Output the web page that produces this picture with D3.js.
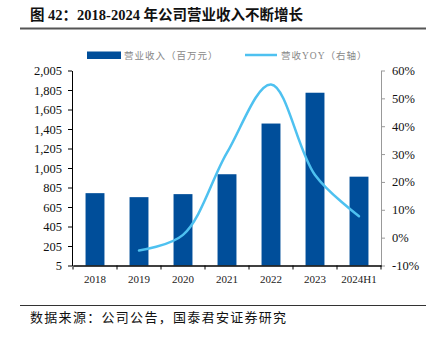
<!DOCTYPE html>
<html><head><meta charset="utf-8">
<script src="https://cdn.jsdelivr.net/npm/d3@7"></script>
<style>
html,body{margin:0;padding:0;background:#fff;}
svg{display:block;}
</style></head>
<body>
<script>
const categories = ["2018","2019","2020","2021","2022","2023","2024H1"];
const revenue = [747, 706, 737, 941, 1461, 1777, 916];
const yoyCats = ["2019","2020","2021","2022","2023","2024H1"];
const yoy = [-4.6, 1.0, 30.5, 55.0, 22.5, 7.7];
const leftTicks = [5,205,405,605,805,1005,1205,1405,1605,1805,2005];
const rightTicks = [-10,0,10,20,30,40,50,60];

const W = 426, H = 338;
const svg = d3.select("body").append("svg").attr("width", W).attr("height", H);
const serif = "'Liberation Serif','Times New Roman',serif";
const cjk = "'Noto Sans CJK SC','Liberation Serif',serif";

const L = 73, R = 381, T = 70.5, B = 265.5;
const x = d3.scaleBand().domain(categories).range([L, R]).paddingInner(0.57).paddingOuter(0.285);
const xb = d3.scaleBand().domain(categories).range([L, R]);
const yL = d3.scaleLinear().domain([5, 2005]).range([B, T]);
const yR = d3.scaleLinear().domain([-10, 60]).range([B, T]);

// title
svg.append("text").attr("x", 30).attr("y", 20)
  .attr("font-family", "'Liberation Serif'," + cjk).attr("font-weight", "bold").attr("font-size", 14.5)
  .attr("fill", "#111").text("图 42：2018-2024 年公司营业收入不断增长");
svg.append("line").attr("x1", 20).attr("x2", W).attr("y1", 28.5).attr("y2", 28.5)
  .attr("stroke", "#555").attr("stroke-width", 2);

// bars
svg.append("g").selectAll("rect").data(categories).join("rect")
  .attr("x", d => x(d)).attr("width", x.bandwidth())
  .attr("y", (d,i) => yL(revenue[i])).attr("height", (d,i) => B - yL(revenue[i]))
  .attr("fill", "#004E9A");

// line
const line = d3.line().x((d,i) => xb(yoyCats[i]) + xb.bandwidth()/2).y(d => yR(d)).curve(d3.curveCatmullRom.alpha(0.5));
svg.append("path").datum(yoy).attr("d", line).attr("fill", "none")
  .attr("stroke", "#4EC1F0").attr("stroke-width", 2.5).attr("stroke-linecap", "round");

// left axis
const gL = svg.append("g").attr("transform", `translate(${L - 1},0)`)
  .call(d3.axisLeft(yL).tickValues(leftTicks).tickFormat(d3.format(",")).tickSize(4).tickSizeOuter(0));
gL.select(".domain").attr("stroke", "#000");
gL.selectAll(".tick line").attr("stroke", "#000");
gL.selectAll("text").attr("font-family", serif).attr("font-size", 12.5).attr("fill", "#111").attr("x", -10);

// right axis
const gR = svg.append("g").attr("transform", `translate(${R},0)`)
  .call(d3.axisRight(yR).tickValues(rightTicks).tickFormat(d => d + "%").tickSize(4).tickSizeOuter(0));
gR.select(".domain").attr("stroke", "#999");
gR.selectAll(".tick line").attr("stroke", "#999");
gR.selectAll("text").attr("font-family", serif).attr("font-size", 12.5).attr("fill", "#111").attr("x", 11);

// bottom axis
const gB = svg.append("g").attr("transform", `translate(0,${B})`)
  .call(d3.axisBottom(xb).tickSize(0).tickSizeOuter(0));
gB.select(".domain").attr("stroke", "#000").attr("stroke-width", 1.3);
gB.selectAll("text").attr("font-family", serif).attr("font-size", 11).attr("fill", "#222").attr("dy", "0.71em").attr("y", 10);
// boundary ticks
svg.append("g").selectAll("line").data(categories.concat(["end"])).join("line")
  .attr("x1", (d,i) => L + i * xb.step()).attr("x2", (d,i) => L + i * xb.step())
  .attr("y1", B).attr("y2", B + 4).attr("stroke", "#000");

// legend
svg.append("rect").attr("x", 87).attr("y", 51.5).attr("width", 34).attr("height", 7.5).attr("fill", "#004E9A");
svg.append("text").attr("x", 124).attr("y", 59).attr("font-family", cjk).attr("font-size", 9.5)
  .attr("letter-spacing", 1).attr("fill", "#888").text("营业收入（百万元）");
svg.append("line").attr("x1", 245).attr("x2", 277).attr("y1", 55).attr("y2", 55)
  .attr("stroke", "#4EC1F0").attr("stroke-width", 2.5);
svg.append("text").attr("x", 281).attr("y", 59).attr("font-family", "'Liberation Serif'," + cjk).attr("font-size", 9.5)
  .attr("letter-spacing", 1).attr("fill", "#888").text("营收YOY（右轴）");

// source
svg.append("line").attr("x1", 20).attr("x2", W).attr("y1", 305.5).attr("y2", 305.5)
  .attr("stroke", "#333").attr("stroke-width", 1);
svg.append("text").attr("x", 30).attr("y", 322).attr("font-family", cjk).attr("font-size", 13)
  .attr("letter-spacing", 1.3).attr("fill", "#111").text("数据来源：公司公告，国泰君安证券研究");
</script>
</body></html>
